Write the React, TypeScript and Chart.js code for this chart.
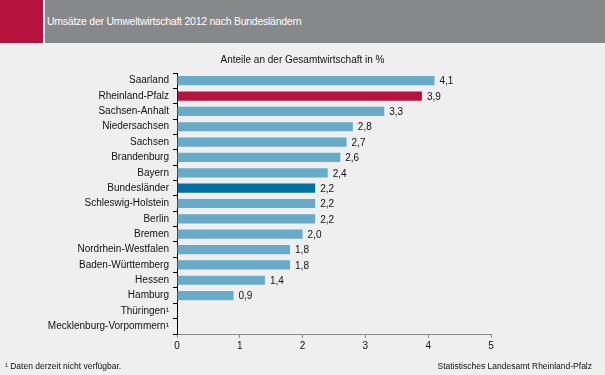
import React, { useEffect, useRef } from "react";
import { Chart, registerables } from "chart.js";

Chart.register(...registerables);

const categories: string[] = [
  "Saarland",
  "Rheinland-Pfalz",
  "Sachsen-Anhalt",
  "Niedersachsen",
  "Sachsen",
  "Brandenburg",
  "Bayern",
  "Bundesländer",
  "Schleswig-Holstein",
  "Berlin",
  "Bremen",
  "Nordrhein-Westfalen",
  "Baden-Württemberg",
  "Hessen",
  "Hamburg",
  "Thüringen¹",
  "Mecklenburg-Vorpommern¹",
];

const values: (number | null)[] = [
  4.1, 3.9, 3.3, 2.8, 2.7, 2.6, 2.4, 2.2, 2.2, 2.2, 2.0, 1.8, 1.8, 1.4, 0.9, null, null,
];

const xTicks: number[] = [0, 1, 2, 3, 4, 5];

const BAR_DEFAULT = "#68abc9";
const BAR_RLP = "#b5123e";
const BAR_TOTAL = "#0070a0";

const FONT = "'Liberation Sans', Arial, sans-serif";

const labelPlugin = {
  id: "valueLabels",
  afterDatasetsDraw(chart: any) {
    const ctx = chart.ctx;
    const meta = chart.getDatasetMeta(0);
    ctx.save();
    ctx.font = `10px ${FONT}`;
    ctx.fillStyle = "#111111";
    ctx.textBaseline = "middle";
    ctx.textAlign = "left";
    meta.data.forEach((el: any, i: number) => {
      const v = values[i];
      if (v === null || v === undefined) return;
      ctx.fillText(v.toFixed(1).replace(".", ","), el.x + 5, el.y + 1);
    });
    ctx.restore();
  },
};

export default function App() {
  const canvasRef = useRef<HTMLCanvasElement | null>(null);

  useEffect(() => {
    if (!canvasRef.current) return;
    const colors = categories.map((c) =>
      c === "Rheinland-Pfalz" ? BAR_RLP : c === "Bundesländer" ? BAR_TOTAL : BAR_DEFAULT
    );
    const chart = new Chart(canvasRef.current, {
      type: "bar",
      data: {
        labels: categories,
        datasets: [
          {
            data: values as any,
            backgroundColor: colors,
            borderWidth: 0,
            categoryPercentage: 1,
            barPercentage: 0.6,
          },
        ],
      },
      options: {
        indexAxis: "y",
        responsive: false,
        animation: false,
        events: [],
        layout: { padding: { top: 73, right: 114, bottom: 21, left: 0 } },
        plugins: {
          legend: { display: false },
          tooltip: { enabled: false },
          title: { display: false },
        },
        scales: {
          x: {
            min: 0,
            max: 5,
            afterBuildTicks: (scale: any) => {
              scale.ticks = xTicks.map((v) => ({ value: v }));
            },
            afterFit: (scale: any) => {
              scale.height = 20;
            },
            grid: {
              drawOnChartArea: false,
              drawTicks: true,
              tickLength: 4,
              color: "#8a8a8a",
            },
            border: { color: "#8a8a8a", width: 1 },
            ticks: {
              color: "#111111",
              font: { family: FONT, size: 10 },
              padding: 2,
              maxRotation: 0,
            },
          },
          y: {
            afterFit: (scale: any) => {
              scale.width = 177;
            },
            grid: {
              offset: true,
              drawOnChartArea: false,
              drawTicks: true,
              tickLength: 4,
              color: "#000000",
            },
            border: { color: "#000000", width: 1 },
            ticks: {
              color: "#111111",
              font: { family: FONT, size: 10 },
              padding: 4,
              autoSkip: false,
            },
          },
        },
      },
      plugins: [labelPlugin],
    });
    return () => chart.destroy();
  }, []);

  return (
    <div
      style={{
        position: "fixed",
        left: 0,
        top: 0,
        width: 605,
        height: 375,
        background: "#eeefee",
        fontFamily: FONT,
        overflow: "hidden",
      }}
    >
      <div style={{ position: "absolute", left: 0, top: 0, width: 43, height: 43, background: "#b5123d" }} />
      <div style={{ position: "absolute", left: 43, top: 0, width: 2, height: 43, background: "#ffffff" }} />
      <div style={{ position: "absolute", left: 45, top: 0, width: 560, height: 43, background: "#87888a" }} />
      <div
        style={{
          position: "absolute",
          left: 47,
          top: 15,
          color: "#ffffff",
          fontSize: 10.5,
          letterSpacing: -0.25,
          lineHeight: "12px",
          whiteSpace: "nowrap",
        }}
      >
        Umsätze der Umweltwirtschaft 2012 nach Bundesländern
      </div>
      <canvas
        ref={canvasRef}
        width={605}
        height={375}
        style={{ position: "absolute", left: 0, top: 0, width: 605, height: 375 }}
      />
      <div
        style={{
          position: "absolute",
          left: 0,
          width: 605,
          top: 54,
          textAlign: "center",
          color: "#111111",
          fontSize: 10,
          lineHeight: "12px",
          whiteSpace: "nowrap",
        }}
      >
        Anteile an der Gesamtwirtschaft in %
      </div>
      <div
        style={{
          position: "absolute",
          left: 5,
          top: 361,
          color: "#111111",
          fontSize: 8.5,
          lineHeight: "10px",
          whiteSpace: "nowrap",
        }}
      >
        ¹ Daten derzeit nicht verfügbar.
      </div>
      <div
        style={{
          position: "absolute",
          right: 13,
          top: 361,
          color: "#111111",
          fontSize: 8.5,
          lineHeight: "10px",
          whiteSpace: "nowrap",
        }}
      >
        Statistisches Landesamt Rheinland-Pfalz
      </div>
    </div>
  );
}
